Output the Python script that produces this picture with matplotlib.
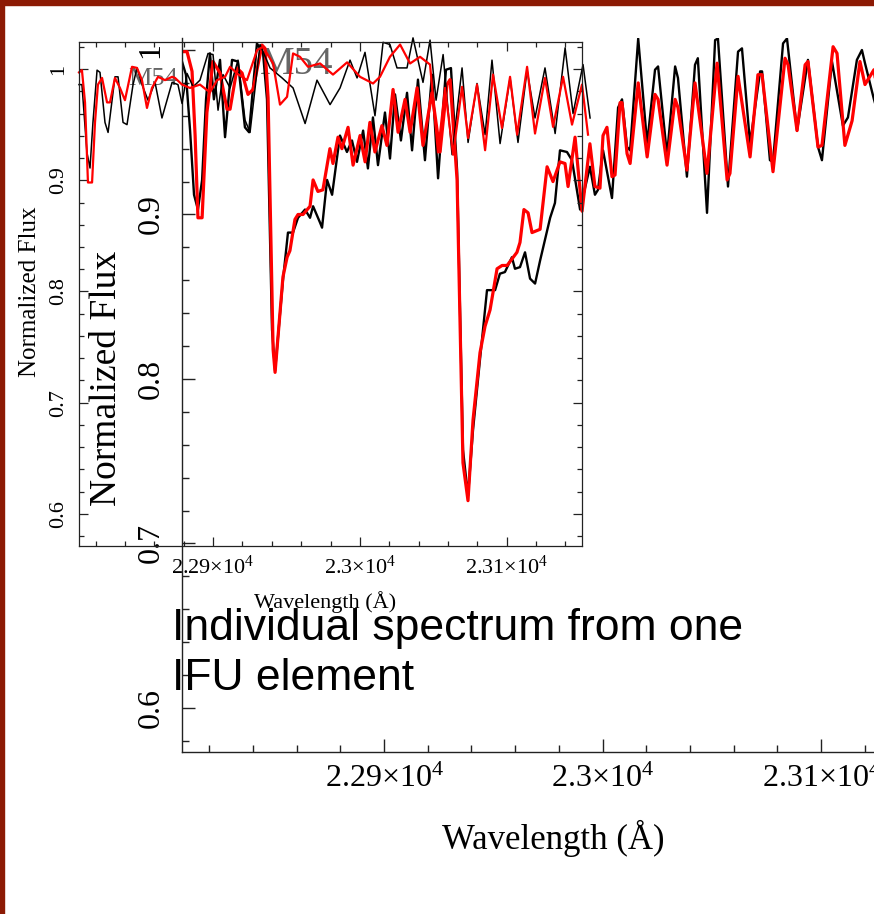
import numpy as np
import matplotlib
matplotlib.use("Agg")
import matplotlib.pyplot as plt
from matplotlib.patches import Rectangle
from matplotlib.ticker import FixedLocator, FixedFormatter, MultipleLocator

plt.rcParams['font.family'] = ['Liberation Serif', 'DejaVu Serif']
plt.rcParams['mathtext.fontset'] = 'custom'
plt.rcParams['mathtext.rm'] = 'Liberation Serif'
plt.rcParams['mathtext.it'] = 'Liberation Serif:italic'

# ---- big (background) panel: spectrum with deep CO features ----
big_red_wl = [22807.5, 22809.8, 22812.1, 22813.5, 22814.8, 22816.7, 22818.9, 22821.7, 22824.9, 22828.1,
              22829.5, 22832.7, 22835.0, 22837.7, 22840.0, 22844.1, 22845.5, 22846.9, 22849.2, 22850.1,
              22853.7, 22855.6, 22856.9, 22859.2, 22860.6, 22862.9, 22866.1, 22867.5, 22869.7, 22872.0,
              22875.2, 22876.6, 22878.9, 22880.7, 22883.5, 22885.8, 22889.0, 22891.3, 22893.5, 22895.8,
              22899.0, 22901.3, 22904.1, 22906.4, 22909.6, 22911.9, 22915.1, 22917.8, 22921.9, 22925.6,
              22928.8, 22930.2, 22933.4, 22936.1, 22938.4, 22940.7, 22943.9, 22946.2, 22948.5, 22951.7,
              22954.0, 22956.3, 22960.8, 22962.2, 22964.0, 22965.9, 22967.7, 22971.4, 22974.6, 22977.3,
              22980.5, 22982.8, 22984.2, 22987.4, 22990.6, 22994.2, 22996.5, 22998.8, 23000.2, 23002.0,
              23004.3, 23005.7, 23008.0, 23008.9, 23011.2, 23012.6, 23016.3, 23020.4, 23024.0, 23025.4,
              23029.5, 23033.2, 23034.5, 23038.6, 23042.3, 23047.8, 23052.4, 23057.0, 23058.3, 23062.0,
              23067.5, 23071.1, 23073.0, 23078.0, 23083.5, 23084.9, 23089.0, 23092.7, 23094.0, 23098.6,
              23100.4, 23105.5, 23107.3, 23110.9, 23114.2, 23117.8, 23120.1, 23124.2, 23127.0]
big_red_fl = [0.999, 0.999, 0.987, 0.948, 0.898, 0.898, 0.962, 0.993, 0.986, 0.964,
              0.964, 0.989, 0.986, 0.973, 0.976, 1.003, 1.001, 0.971, 0.818, 0.804,
              0.862, 0.874, 0.878, 0.897, 0.900, 0.900, 0.905, 0.921, 0.914, 0.915,
              0.940, 0.931, 0.947, 0.940, 0.953, 0.930, 0.948, 0.932, 0.956, 0.938,
              0.954, 0.942, 0.976, 0.950, 0.970, 0.950, 0.977, 0.942, 0.974, 0.938,
              0.979, 0.982, 0.921, 0.749, 0.726, 0.775, 0.816, 0.832, 0.842, 0.867,
              0.869, 0.869, 0.877, 0.883, 0.903, 0.901, 0.889, 0.891, 0.929, 0.920,
              0.932, 0.931, 0.917, 0.947, 0.902, 0.943, 0.917, 0.916, 0.948, 0.953,
              0.923, 0.924, 0.968, 0.968, 0.937, 0.931, 0.980, 0.935, 0.973, 0.970,
              0.930, 0.970, 0.965, 0.927, 0.980, 0.925, 0.992, 0.921, 0.925, 0.984,
              0.935, 0.985, 0.985, 0.926, 0.995, 0.991, 0.951, 0.991, 0.993, 0.941,
              0.942, 1.002, 0.998, 0.942, 0.957, 0.993, 0.979, 0.988, 0.964]

big_blk_wl = [22807.5, 22809.3, 22811.2, 22813.0, 22814.8, 22816.7, 22818.5, 22820.3, 22822.1, 22824.9,
              22827.2, 22830.4, 22833.1, 22836.3, 22838.2, 22841.8, 22844.6, 22846.4, 22848.7, 22850.1,
              22853.7, 22856.0, 22858.3, 22860.6, 22863.8, 22866.1, 22867.5, 22870.7, 22871.6, 22873.9,
              22876.2, 22879.8, 22883.0, 22885.3, 22887.6, 22890.4, 22892.6, 22894.9, 22897.2, 22900.4,
              22902.7, 22905.0, 22907.7, 22910.5, 22912.8, 22915.5, 22918.7, 22921.9, 22924.7, 22928.3,
              22930.6, 22933.4, 22936.1, 22938.4, 22940.7, 22943.9, 22947.1, 22950.8, 22953.0, 22955.3,
              22958.5, 22959.9, 22962.2, 22964.5, 22966.8, 22969.1, 22971.4, 22976.0, 22978.2, 22980.5,
              22983.7, 22986.0, 22989.7, 22994.2, 22996.5, 22997.9, 23000.2, 23004.3, 23007.1, 23008.9,
              23011.2, 23012.6, 23016.3, 23020.4, 23024.0, 23025.4, 23029.5, 23033.2, 23034.5, 23038.6,
              23042.3, 23043.6, 23047.8, 23051.5, 23052.8, 23057.4, 23062.0, 23063.8, 23067.5, 23072.1,
              23073.0, 23076.6, 23078.0, 23082.6, 23084.4, 23089.0, 23094.0, 23098.6, 23100.4, 23105.0,
              23110.0, 23112.3, 23116.4, 23118.7, 23120.1, 23124.2, 23127.0]
big_blk_fl = [0.993, 0.985, 0.951, 0.912, 0.903, 0.921, 0.970, 0.998, 0.970, 0.994,
              0.947, 0.994, 0.993, 0.953, 0.950, 1.004, 0.998, 0.970, 0.830, 0.805,
              0.860, 0.889, 0.889, 0.898, 0.903, 0.898, 0.905, 0.895, 0.892, 0.921,
              0.912, 0.948, 0.938, 0.945, 0.932, 0.951, 0.928, 0.959, 0.930, 0.962,
              0.934, 0.973, 0.945, 0.974, 0.939, 0.982, 0.933, 0.985, 0.922, 0.988,
              0.989, 0.927, 0.757, 0.729, 0.769, 0.812, 0.854, 0.854, 0.864, 0.865,
              0.874, 0.867, 0.868, 0.877, 0.861, 0.858, 0.872, 0.898, 0.907, 0.939,
              0.938, 0.933, 0.903, 0.929, 0.912, 0.915, 0.939, 0.910, 0.965, 0.970,
              0.941, 0.939, 1.007, 0.943, 0.988, 0.990, 0.936, 0.990, 0.983, 0.923,
              0.991, 0.995, 0.901, 1.006, 1.007, 0.917, 0.999, 1.001, 0.943, 0.987,
              0.987, 0.933, 0.932, 1.004, 1.007, 0.951, 0.994, 0.941, 0.933, 0.993,
              0.954, 0.959, 0.994, 1.000, 0.992, 0.970, 0.957]

# ---- small (foreground) panel ----
sm_red_wl = [22808.7, 22810.7, 22812.8, 22814.8, 22817.6, 22819.6, 22821.6, 22824.4, 22827.8, 22829.8,
             22833.2, 22836.6, 22840.0, 22844.8, 22848.2, 22851.6, 22855.0, 22858.4, 22862.5, 22867.3,
             22872.1, 22874.1, 22878.9, 22884.3, 22891.1, 22897.9, 22902.7, 22908.2, 22911.6, 22916.3,
             22923.1, 22930.0, 22934.0, 22940.9, 22945.6, 22950.4, 22954.5, 22959.2, 22964.7, 22972.9,
             22981.7, 22991.3, 23000.1, 23009.0, 23013.7, 23020.5, 23027.4, 23034.2, 23041.0, 23047.8,
             23053.2, 23058.0, 23063.5, 23069.6, 23073.7, 23079.8, 23085.3, 23090.7, 23096.8, 23102.3,
             23107.1, 23113.9, 23119.3, 23126.1, 23131.6, 23138.4, 23144.5, 23151.3, 23155.4]
sm_red_fl = [0.997, 0.999, 0.970, 0.898, 0.898, 0.952, 0.986, 0.992, 0.970, 0.970,
             0.992, 0.983, 0.972, 1.002, 1.001, 0.990, 0.965, 0.983, 0.993, 0.990,
             0.993, 0.992, 0.986, 0.983, 0.986, 0.979, 0.990, 0.993, 1.002, 0.996,
             0.990, 1.017, 1.020, 1.005, 0.968, 0.975, 1.014, 1.011, 1.002, 1.005,
             0.995, 1.006, 0.993, 0.987, 0.993, 1.011, 1.022, 1.005, 1.011, 1.004,
             0.925, 0.983, 0.923, 0.984, 0.938, 0.986, 0.927, 0.995, 0.947, 0.993,
             0.941, 1.002, 0.942, 0.992, 0.948, 0.993, 0.950, 0.986, 0.941]

sm_blk_wl = [22808.7, 22810.7, 22814.1, 22816.2, 22818.2, 22821.0, 22823.0, 22826.4, 22828.5, 22833.2,
             22835.3, 22838.7, 22841.4, 22845.5, 22848.2, 22851.6, 22855.7, 22860.5, 22865.2, 22872.1,
             22876.1, 22878.9, 22882.3, 22886.4, 22891.1, 22896.6, 22900.0, 22903.4, 22906.8, 22911.6,
             22917.0, 22921.8, 22925.2, 22932.0, 22938.8, 22947.0, 22954.5, 22962.7, 22970.8, 22979.7,
             22986.5, 22993.3, 22998.1, 23003.5, 23010.3, 23015.8, 23020.5, 23025.3, 23032.1, 23036.2,
             23043.0, 23047.8, 23051.9, 23056.7, 23062.8, 23069.6, 23073.7, 23079.8, 23085.3, 23090.0,
             23095.5, 23102.3, 23107.7, 23113.9, 23119.3, 23126.1, 23133.0, 23139.8, 23145.2, 23152.0,
             23156.8]
sm_blk_fl = [0.986, 0.986, 0.925, 0.911, 0.952, 0.999, 0.997, 0.952, 0.943, 0.993,
             0.993, 0.952, 0.950, 0.986, 1.001, 0.986, 0.972, 0.988, 0.956, 0.988,
             0.986, 0.969, 0.996, 0.984, 0.990, 1.014, 1.013, 0.963, 0.995, 0.983,
             1.008, 0.954, 0.943, 1.022, 1.001, 0.992, 0.983, 0.951, 0.990, 0.968,
             0.983, 1.008, 0.992, 1.015, 0.958, 1.024, 1.022, 1.001, 1.001, 1.028,
             0.988, 1.026, 0.972, 1.013, 0.923, 1.001, 0.934, 0.987, 0.941, 1.008,
             0.933, 0.992, 0.934, 0.999, 0.956, 1.001, 0.942, 1.019, 0.960, 1.004,
             0.956]

x_ticks = [22900, 23000, 23100]
x_ticklabels = [r'$2.29{\times}10^4$', r'$2.3{\times}10^4$', r'$2.31{\times}10^4$']
y_ticks = [0.6, 0.7, 0.8, 0.9, 1.0]
y_ticklabels = ['0.6', '0.7', '0.8', '0.9', '1']

W, H = 874, 914
fig = plt.figure(figsize=(W / 100, H / 100), dpi=100)
fig.patch.set_facecolor('white')


def px_rect(x0, y0, x1, y1):
    # pixel box (top-left origin) -> figure fraction
    return [x0 / W, 1 - y1 / H, (x1 - x0) / W, (y1 - y0) / H]


def style_axes(ax, fs, maj, mnr, pad_x, pad_y, lw, top=True):
    ax.set_facecolor('none')
    ax.xaxis.set_major_locator(FixedLocator(x_ticks))
    ax.xaxis.set_major_formatter(FixedFormatter(x_ticklabels))
    ax.xaxis.set_minor_locator(MultipleLocator(20))
    ax.yaxis.set_major_locator(FixedLocator(y_ticks))
    ax.yaxis.set_major_formatter(FixedFormatter(y_ticklabels))
    ax.yaxis.set_minor_locator(MultipleLocator(0.02))
    ax.tick_params(which='both', direction='in', top=top, right=True, width=lw, color='#222222')
    ax.tick_params(which='major', length=maj)
    ax.tick_params(which='minor', length=mnr)
    ax.tick_params(axis='x', labelsize=fs, pad=pad_x)
    ax.tick_params(axis='y', labelsize=fs, pad=pad_y, labelrotation=90)
    for lab in ax.get_yticklabels():
        lab.set_va('center')
    for s in ax.spines.values():
        s.set_linewidth(lw)
        s.set_color('#222222')


# big panel (drawn first, behind); its top is cut off by the slide
axb = fig.add_axes(px_rect(182, 38, 929, 752))
axb.text(22843.2, 0.9854, 'M54', fontsize=28, color='#666666', zorder=0)
axb.plot(big_blk_wl, big_blk_fl, color='black', lw=1.7)
axb.plot(big_red_wl, big_red_fl, color='red', lw=2.3)
axb.set_xlim(22807.5, 23149.4)
axb.set_ylim(0.5732, 1.0073)
style_axes(axb, 23, 9.5, 5, 9, 12, 1.0, top=False)
axb.spines['top'].set_visible(False)

# small panel (on top)
axs = fig.add_axes(px_rect(79, 42, 582, 546))
axs.text(22842.1, 0.9856, 'M54', fontsize=19, color='#666666', zorder=0)
axs.plot(sm_blk_wl, sm_blk_fl, color='black', lw=1.1, clip_on=False)
axs.plot(sm_red_wl, sm_red_fl, color='red', lw=1.6, clip_on=False)
axs.set_xlim(22808.7, 23151.3)
axs.set_ylim(0.5712, 1.0243)
style_axes(axs, 16, 6.5, 3.6, 7, 8, 0.9)

# axis titles
fig.text(30 / W, 1 - 292 / H, 'Normalized Flux', rotation=90, fontsize=18, ha='center', va='center')
fig.text(325 / W, 1 - 602 / H, 'Wavelength (Å)', fontsize=16, ha='center', va='center')
fig.text(107 / W, 1 - 378 / H, 'Normalized Flux', rotation=90, fontsize=27, ha='center', va='center')
fig.text(553 / W, 1 - 838 / H, 'Wavelength (Å)', fontsize=25, ha='center', va='center')

# slide caption
fig.text(172 / W, 1 - 640 / H, 'Individual spectrum from one', fontsize=32,
         family='Liberation Sans', ha='left', va='baseline')
fig.text(172 / W, 1 - 690 / H, 'IFU element', fontsize=32,
         family='Liberation Sans', ha='left', va='baseline')

# slide border
fig.patches.append(Rectangle((0, 0), 4 / W, 1, transform=fig.transFigure, color='#8c1a04', zorder=10))
fig.patches.append(Rectangle((0, 1 - 5 / H), 1, 5 / H, transform=fig.transFigure, color='#8c1a04', zorder=10))

fig.savefig('out.png', dpi=100)
